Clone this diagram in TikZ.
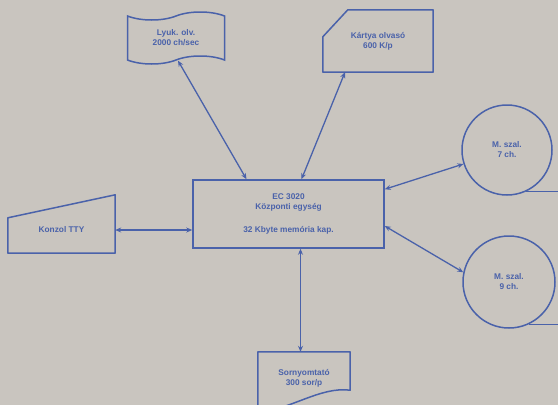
\documentclass[tikz,border=0pt]{standalone}
\usepackage{fontspec}
\setmainfont{Liberation Sans}
\usetikzlibrary{arrows.meta,shapes.symbols}
\definecolor{ink}{RGB}{74,98,170}
\definecolor{paper}{RGB}{201,197,191}

\begin{document}
\begin{tikzpicture}[x=1pt,y=-1pt,
  every node/.style={font=\fontsize{8.3}{10}\selectfont\bfseries,text=ink,align=center},
  unit/.style={draw=ink,line width=1.5pt},
  outline/.style={ink,line width=1.5pt,line join=round},
  link/.style={ink,line width=1.3pt,{Stealth[length=6pt,width=5pt]}-{Stealth[length=6pt,width=5pt]}}]
  \fill[paper] (0,0) rectangle (558,405);
  \clip (0,0) rectangle (558,405);
  % central unit
  \node[unit,minimum width=191,minimum height=68] (cpu) at (288.5,214)
    {EC 3020\\Központi egység\\[13pt]32 Kbyte memória kap.};
  % peripherals
  \node[tape,unit,minimum width=97,minimum height=52,tape bend height=8] (ptr) at (176,38)
    {Lyuk. olv.\\2000 ch/sec};
  \node[minimum width=110,minimum height=62] (card) at (378,41) {Kártya olvasó\\600 K/p};
  \draw[outline] ([xshift=25]card.north west) -- (card.north east) -- (card.south east)
    -- (card.south west) -- ([yshift=-27]card.north west) -- cycle;
  \node[minimum width=107,minimum height=46] (tty) at (61.5,230) {Konzol TTY};
  \draw[outline] ([yshift=-11]tty.north west) -- ([yshift=12]tty.north east) -- (tty.south east)
    -- (tty.south west) -- cycle;
  \node[circle,unit,minimum size=90] (mt7) at (507,150) {M. szal.\\7 ch.};
  \draw[outline] (mt7.-65) -- ++(40,0);
  \node[circle,unit,minimum size=92] (mt9) at (509,282) {M. szal.\\9 ch.};
  \draw[outline] (mt9.-65) -- ++(40,0);
  \node[minimum width=92,minimum height=52] (lp) at (304,378) {Sornyomtató\\300 sor/p};
  \draw[outline] ([yshift=-8]lp.south west) -- (lp.north west) -- (lp.north east)
    -- ([yshift=14]lp.south east)
    .. controls ([xshift=-30,yshift=18]lp.south east) and ([xshift=32,yshift=-6]lp.south west)
    .. ([yshift=-8]lp.south west);
  % connections
  \draw[link] ([xshift=2]ptr.south) -- ([xshift=-42]cpu.north);
  \draw[link] ([xshift=-33]card.south) -- ([xshift=13]cpu.north);
  \draw[link] (tty.east) -- (tty.east -| cpu.west);
  \draw[link] ([yshift=-10]cpu.north east) -- (mt7);
  \draw[link] ([yshift=-12]cpu.east) -- (mt9.168);
  \draw[link] ([xshift=12]cpu.south) -- ([xshift=12]cpu.south |- lp.north);
\end{tikzpicture}
\end{document}
